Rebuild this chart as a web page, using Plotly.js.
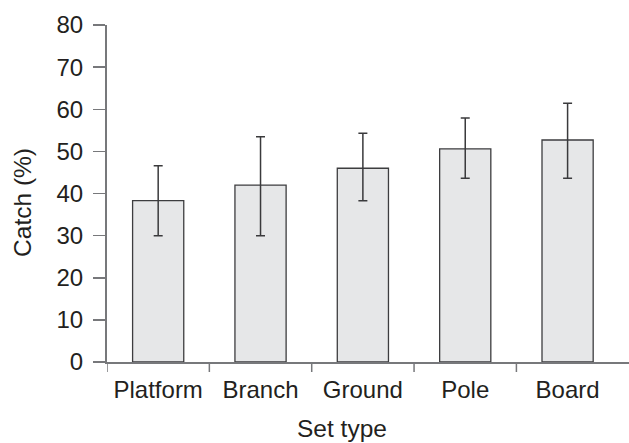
<!DOCTYPE html>
<html>
<head>
<meta charset="utf-8">
<script src="https://cdn.plot.ly/plotly-3.0.1.min.js"></script>
<style>html,body{margin:0;padding:0;background:#fff;}#chart{width:629px;height:443px;}</style>
</head>
<body>
<div id="chart"></div>
<script>
var categories = ["Platform", "Branch", "Ground", "Pole", "Board"];
var catchPct = [38.3, 42.0, 46.0, 50.6, 52.7];
var errPlus = [8.3, 11.5, 8.3, 7.3, 8.7];
var errMinus = [8.3, 12.0, 7.7, 7.0, 9.1];
var yTicks = [0, 10, 20, 30, 40, 50, 60, 70, 80];
var xTitle = 'Set type';
var yTitle = 'Catch (%)';

var axisColor = '#77787b';
var textColor = '#231f20';

var trace = {
  type: 'bar',
  x: categories,
  y: catchPct,
  width: 0.5,
  marker: {color: '#e6e7e8', line: {color: '#3d3d3f', width: 1.3}},
  error_y: {type: 'data', symmetric: false, array: errPlus, arrayminus: errMinus,
            color: '#3a3a3c', thickness: 1.5, width: 4.5},
  hoverinfo: 'skip'
};

// boundary tick marks between categories (not after the last)
var shapes = categories.map(function (c, i) {
  return {type: 'line', xref: 'x', yref: 'paper', ysizemode: 'pixel', yanchor: 0,
          x0: i - 0.5, x1: i - 0.5, y0: 0, y1: -10,
          line: {color: axisColor, width: 1.5}};
});

var layout = {
  width: 629, height: 443,
  margin: {l: 107, r: 0, t: 25, b: 81, pad: 0},
  paper_bgcolor: '#fff', plot_bgcolor: '#fff',
  showlegend: false,
  font: {family: '"Liberation Sans", Arial, sans-serif', color: textColor},
  xaxis: {
    type: 'category',
    range: [-0.5, 4.6],
    showline: true, linecolor: axisColor, linewidth: 2,
    ticks: 'outside', ticklen: 5, tickcolor: 'rgba(0,0,0,0)',
    showgrid: false, zeroline: false,
    tickfont: {size: 24, color: textColor},
    automargin: false, fixedrange: true
  },
  yaxis: {
    range: [0, 80],
    tickvals: yTicks,
    showline: true, linecolor: axisColor, linewidth: 2,
    ticks: 'outside', ticklen: 12, tickwidth: 1.5, tickcolor: axisColor,
    ticklabelstandoff: 5,
    showgrid: false, zeroline: false,
    tickfont: {size: 24, color: textColor},
    automargin: false, fixedrange: true
  },
  shapes: shapes,
  annotations: [
    {text: xTitle, xref: 'paper', yref: 'paper', x: 0.45, y: -0.196,
     xanchor: 'center', yanchor: 'middle', showarrow: false,
     font: {size: 24.5, color: textColor}},
    {text: yTitle, xref: 'paper', yref: 'paper', x: -0.161, y: 0.475,
     xanchor: 'center', yanchor: 'middle', showarrow: false, textangle: -90,
     font: {size: 24.5, color: textColor}}
  ]
};

Plotly.newPlot('chart', [trace], layout, {displayModeBar: false, staticPlot: true});
</script>
</body>
</html>
